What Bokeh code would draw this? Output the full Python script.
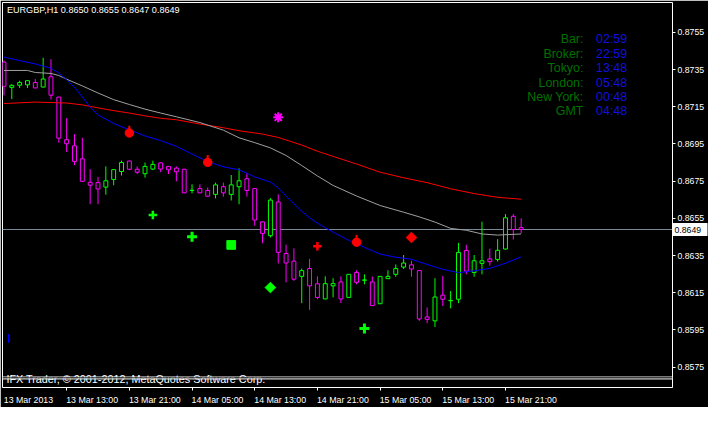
import numpy as np
from bokeh.plotting import figure
from bokeh.models import (Range1d, FixedTicker, PrintfTickFormatter, Span, Label,
                          ColumnDataSource, LinearAxis)
from bokeh.core.properties import value
from bokeh.embed import file_html
from bokeh.resources import INLINE

# ---------------- data ----------------
symbol = "EURGBP,H1"
bars = list(range(67))  # hourly bars, 13 Mar 05:00 .. 15 Mar 23:00
opens = [0.87390, 0.87254, 0.87266, 0.87268, 0.87280, 0.87256, 0.87311, 0.87202, 0.86973, 0.86940,
         0.86870, 0.86744, 0.86742, 0.86718, 0.86759, 0.86802, 0.86858, 0.86814, 0.86790, 0.86815,
         0.86848, 0.86829, 0.86820, 0.86814, 0.86700, 0.86710, 0.86700, 0.86679, 0.86720, 0.86679,
         0.86720, 0.86763, 0.86710, 0.86531, 0.86457, 0.86638, 0.86361, 0.86320, 0.86238, 0.86280,
         0.86198, 0.86117, 0.86187, 0.86208, 0.86125, 0.86259, 0.86217, 0.86208, 0.86091, 0.86226,
         0.86249, 0.86288, 0.86300, 0.86269, 0.86020, 0.85999, 0.86137, 0.86107, 0.86115, 0.86377,
         0.86259, 0.86308, 0.86332, 0.86329, 0.86385, 0.86561, 0.86500]
highs = [0.87398, 0.87271, 0.87290, 0.87292, 0.87299, 0.87413, 0.87405, 0.87203, 0.87089, 0.87003,
         0.86983, 0.86814, 0.86773, 0.86829, 0.86814, 0.86860, 0.86860, 0.86829, 0.86850, 0.86860,
         0.86850, 0.86831, 0.86829, 0.86816, 0.86733, 0.86733, 0.86716, 0.86742, 0.86742, 0.86783,
         0.86819, 0.86793, 0.86712, 0.86533, 0.86659, 0.86679, 0.86408, 0.86389, 0.86280, 0.86332,
         0.86238, 0.86238, 0.86228, 0.86238, 0.86250, 0.86271, 0.86249, 0.86238, 0.86240, 0.86271,
         0.86302, 0.86353, 0.86322, 0.86271, 0.86071, 0.86228, 0.86240, 0.86159, 0.86418, 0.86408,
         0.86353, 0.86532, 0.86387, 0.86438, 0.86573, 0.86573, 0.86550]
lows = [0.87211, 0.87191, 0.87251, 0.87251, 0.87250, 0.87254, 0.87189, 0.86957, 0.86906, 0.86836,
        0.86748, 0.86626, 0.86626, 0.86677, 0.86728, 0.86780, 0.86809, 0.86788, 0.86769, 0.86809,
        0.86798, 0.86788, 0.86749, 0.86686, 0.86684, 0.86686, 0.86668, 0.86657, 0.86667, 0.86646,
        0.86626, 0.86667, 0.86510, 0.86416, 0.86447, 0.86307, 0.86206, 0.86214, 0.86094, 0.86058,
        0.86115, 0.86115, 0.86125, 0.86094, 0.86123, 0.86195, 0.86195, 0.86080, 0.86089, 0.86224,
        0.86236, 0.86278, 0.86236, 0.85999, 0.85987, 0.85966, 0.86079, 0.86066, 0.86094, 0.86249,
        0.86236, 0.86249, 0.86296, 0.86318, 0.86383, 0.86436, 0.86470]
closes = [0.87260, 0.87265, 0.87280, 0.87290, 0.87251, 0.87299, 0.87212, 0.86981, 0.86951, 0.86856,
          0.86749, 0.86728, 0.86708, 0.86752, 0.86812, 0.86850, 0.86814, 0.86798, 0.86829, 0.86840,
          0.86815, 0.86811, 0.86800, 0.86687, 0.86701, 0.86687, 0.86669, 0.86730, 0.86687, 0.86730,
          0.86752, 0.86700, 0.86541, 0.86469, 0.86648, 0.86367, 0.86310, 0.86223, 0.86269, 0.86187,
          0.86125, 0.86199, 0.86199, 0.86117, 0.86249, 0.86206, 0.86219, 0.86081, 0.86238, 0.86238,
          0.86280, 0.86310, 0.86278, 0.86009, 0.86007, 0.86127, 0.86115, 0.86109, 0.86367, 0.86266,
          0.86322, 0.86322, 0.86317, 0.86378, 0.86553, 0.86490, 0.86490]

red_ma_bars = [0, 4, 8, 10, 12, 14, 16, 18, 20, 22, 25, 28, 30, 33, 35, 38, 40, 42, 45, 48, 51, 54, 57, 60, 63, 66]
red_ma = [0.87167, 0.87175, 0.87170, 0.87160, 0.87144, 0.87129, 0.87116, 0.87101, 0.87088, 0.87080,
          0.87057, 0.87037, 0.87021, 0.87003, 0.86985, 0.86944, 0.86911, 0.86883, 0.86842, 0.86798,
          0.86768, 0.86742, 0.86709, 0.86683, 0.86663, 0.86653]
grey_ma_bars = [0, 3, 4, 6, 7, 8, 10, 12, 14, 16, 18, 20, 22, 25, 28, 30, 32, 34, 36, 38, 40, 42,
                45, 48, 51, 53, 55, 57, 59, 61, 63, 66]
grey_ma = [0.87345, 0.87345, 0.87334, 0.87329, 0.87318, 0.87298, 0.87262, 0.87224, 0.87188, 0.87162,
           0.87137, 0.87116, 0.87096, 0.87065, 0.87024, 0.86983, 0.86957, 0.86929, 0.86888, 0.86834,
           0.86778, 0.86727, 0.86670, 0.86619, 0.86583, 0.86558, 0.86530, 0.86496, 0.86486, 0.86466,
           0.86460, 0.86466]
blue_ma_bars = [0, 2, 4, 6, 7, 8, 9, 10, 11, 12, 14, 16, 18, 20, 22, 24, 26, 28, 30, 32, 34, 35, 36,
                37, 38, 39, 40, 42, 44, 46, 48, 50, 52, 54, 56, 58, 60, 62, 64, 66]
blue_ma = [0.87417, 0.87398, 0.87380, 0.87357, 0.87331, 0.87295, 0.87254, 0.87203, 0.87147, 0.87106,
           0.87060, 0.87026, 0.86993, 0.86968, 0.86937, 0.86896, 0.86855, 0.86827, 0.86811, 0.86773,
           0.86745, 0.86714, 0.86670, 0.86629, 0.86588, 0.86553, 0.86524, 0.86476, 0.86432, 0.86394,
           0.86358, 0.86341, 0.86330, 0.86302, 0.86276, 0.86258, 0.86268, 0.86281, 0.86309, 0.86343]

# signal arrows
red_dot_bars = [16, 26, 45]
red_dot_prices = [0.87009, 0.86851, 0.86422]
red_diamond_bars = [52]
red_diamond_prices = [0.86447]
red_cross_bars = [40]
red_cross_prices = [0.86400]
magenta_star_bars = [35]
magenta_star_prices = [0.87093]
green_cross_bars = [19]
green_cross_prices = [0.86568]
green_plus_bars = [24, 46]
green_plus_prices = [0.86451, 0.85958]
green_square_bars = [29]
green_square_prices = [0.86407]
green_diamond_bars = [34]
green_diamond_prices = [0.86178]
blue_tick_bar = [0.6]
blue_tick_low = [0.85881]
blue_tick_high = [0.85928]

x_tick_bars = [8, 16, 24, 32, 40, 48, 56, 64]
x_first_label = "13 Mar 2013"
x_tick_labels = ["13 Mar 13:00", "13 Mar 21:00", "14 Mar 05:00", "14 Mar 13:00",
                 "14 Mar 21:00", "15 Mar 05:00", "15 Mar 13:00", "15 Mar 21:00"]
y_ticks = [0.8575, 0.8595, 0.8615, 0.8635, 0.8655, 0.8675, 0.8695, 0.8715, 0.8735, 0.8755]

clock_names = ["Bar:", "Broker:", "Tokyo:", "London:", "New York:", "GMT"]
clock_times = ["02:59", "22:59", "13:48", "05:48", "00:48", "04:48"]
copyright_text = "IFX Trader, \u00a9 2001-2012, MetaQuotes Software Corp."

# ---------------- layout helpers (reference pixel -> data coords) ----------------
FONT = "Liberation Sans"
PX_PER_UNIT = 19520.0


def bx(px):
    return (px - 3.5) / 8.0


def py(px):
    return 0.8755 - (px - 33.3) / PX_PER_UNIT


W, H = 708, 407
BORDER_R = 36
p = figure(width=W, height=H,
           x_range=Range1d(bx(2), bx(686)), y_range=Range1d(py(406), py(2)),
           y_axis_location="right", output_backend="svg", toolbar_location=None,
           background_fill_color="black", border_fill_color="black",
           outline_line_color="white", outline_line_width=1,
           min_border_left=2, min_border_right=BORDER_R, min_border_top=2, min_border_bottom=16)
p.xgrid.visible = False
p.ygrid.visible = False

# y axis (right)
ya = p.yaxis[0]
ya.ticker = FixedTicker(ticks=y_ticks, minor_ticks=[])
ya.formatter = PrintfTickFormatter(format="%.4f")
ya.axis_line_color = None
ya.major_tick_line_color = "white"
ya.major_tick_out = 3
ya.major_tick_in = 0
ya.minor_tick_line_color = None
ya.major_label_text_color = "white"
ya.major_label_text_font = FONT
ya.major_label_text_font_size = "8.7px"
ya.major_label_standoff = 2

# current-price tag: an extra axis whose single minor tick is drawn as the white box
last_close = closes[-1]
tag = LinearAxis(ticker=FixedTicker(ticks=[last_close], minor_ticks=[last_close]),
                 formatter=PrintfTickFormatter(format="%.4f"))
tag.axis_line_color = None
tag.major_tick_line_color = None
tag.major_tick_out = 0
tag.major_tick_in = 0
tag.minor_tick_line_color = "white"
tag.minor_tick_line_width = 13
tag.minor_tick_line_cap = "butt"
tag.minor_tick_in = 35
tag.minor_tick_out = 0
tag.major_label_text_color = "black"
tag.major_label_text_font = FONT
tag.major_label_text_font_size = "8.7px"
tag.major_label_standoff = -33
p.add_layout(tag, "right")

# x axis: labels start at the tick, so put the label anchor to the right of it
label_pos = [3.125] + [b + 3.25 for b in x_tick_bars]
xa = p.xaxis[0]
xa.ticker = FixedTicker(ticks=label_pos, minor_ticks=x_tick_bars)
xa.major_label_overrides = {pos: lab for pos, lab in zip(label_pos, [x_first_label] + x_tick_labels)}
xa.axis_line_color = None
xa.major_tick_line_color = None
xa.major_tick_out = 0
xa.major_tick_in = 0
xa.minor_tick_line_color = "white"
xa.minor_tick_out = 3
xa.minor_tick_in = 0
xa.major_label_text_color = "white"
xa.major_label_text_font = FONT
xa.major_label_text_font_size = "8.8px"
xa.major_label_standoff = 4

# bid line
p.add_layout(Span(location=last_close, dimension="width", line_color="#778899",
                  line_width=1, level="underlay"))

# candles
bull = [c > o for o, c in zip(opens, closes)]
src = ColumnDataSource(dict(
    x=bars, h=highs, l=lows,
    top=[max(o, c) for o, c in zip(opens, closes)],
    bottom=[min(o, c) for o, c in zip(opens, closes)],
    color=["#00ff00" if b else "#ff00ff" for b in bull],
))
p.segment(x0="x", y0="h", x1="x", y1="l", line_color="color", line_width=1, source=src)
p.vbar(x="x", width=0.5, top="top", bottom="bottom", fill_color="black",
       line_color="color", line_width=1, source=src)

# moving averages
p.line(red_ma_bars, red_ma, line_color="#ff0000", line_width=1)
p.line(grey_ma_bars, grey_ma, line_color="#a0a0a0", line_width=1)
p.line(blue_ma_bars, blue_ma, line_color="#0000ff", line_width=1)

# signal symbols
tip_shift = 4.5 / PX_PER_UNIT  # small point on top of the drop symbol
p.scatter(red_dot_bars, [v + tip_shift for v in red_dot_prices], marker="dash", angle=np.pi / 2,
          size=6, line_color="#ff0000", line_width=2)
p.scatter(red_dot_bars, red_dot_prices, marker="circle", size=8.5, fill_color="#ff0000", line_color="#ff0000")
p.scatter(red_diamond_bars, red_diamond_prices, marker="square", angle=np.pi / 4, size=7.5,
          fill_color="#ff0000", line_color="#ff0000")
p.scatter(red_cross_bars, red_cross_prices, marker="cross", size=8.5, line_color="#ff0000", line_width=2.5)
p.scatter(magenta_star_bars, magenta_star_prices, marker="asterisk", size=10, line_color="#ff00ff", line_width=2)
p.scatter(green_cross_bars, green_cross_prices, marker="cross", size=8.5, line_color="#00ff00", line_width=2.5)
p.scatter(green_plus_bars, green_plus_prices, marker="cross", size=10, line_color="#00ff00", line_width=3)
p.scatter(green_square_bars, green_square_prices, marker="square", size=8.7,
          fill_color="#00ff00", line_color="#00ff00")
p.scatter(green_diamond_bars, green_diamond_prices, marker="square", angle=np.pi / 4, size=7.5,
          fill_color="#00ff00", line_color="#00ff00")
p.segment(x0=blue_tick_bar, y0=blue_tick_low, x1=blue_tick_bar, y1=blue_tick_high,
          line_color="#0000ff", line_width=1.5)

# clock panel
rows = [40.7, 56.0, 71.0, 86.3, 100.7, 115.7]
p.text(x=[bx(595)] * len(clock_names), y=[py(r) for r in rows], text=clock_names,
       text_align="right", text_baseline="middle", text_font=value(FONT),
       text_font_size="12.4px", text_color="#007000")
p.text(x=[bx(608)] * len(clock_times), y=[py(r) for r in rows], text=clock_times,
       text_align="left", text_baseline="middle", text_font=value(FONT),
       text_font_size="12.4px", text_color="#1010e0")

# title
title_txt = "%s  %.4f %.4f %.4f %.4f" % (symbol, opens[-1], highs[-1], lows[-1], closes[-1])
p.add_layout(Label(x=bx(6.5), y=py(10.3), text=title_txt, text_color="white",
                   text_font=FONT, text_font_size="9.1px", text_baseline="middle", text_align="left"))

# copyright line (crosses the window separator)
p.add_layout(Label(x=bx(6), y=py(397.5), text=copyright_text, text_color="white",
                   text_font=FONT, text_font_size="10.8px", text_baseline="middle", text_align="left"))

# separator between main window and (empty) sub window
p.add_layout(Span(location=py(395), dimension="width", line_color="white", line_width=1))
p.add_layout(Span(location=py(396), dimension="width", line_color="black", line_width=1))
p.add_layout(Span(location=py(397), dimension="width", line_color="white", line_width=1))

open("out.html", "w").write(file_html(p, INLINE))
